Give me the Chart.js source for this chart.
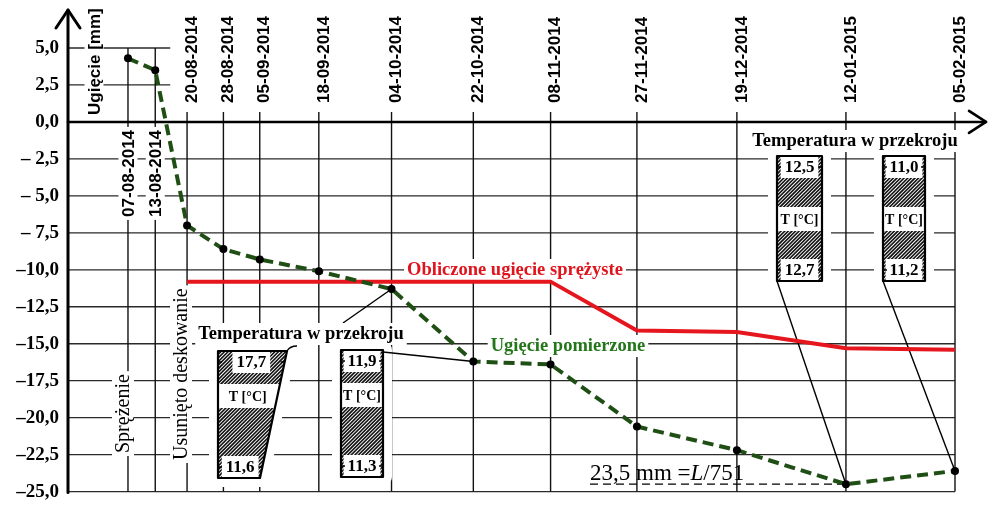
<!DOCTYPE html>
<html>
<head>
<meta charset="utf-8">
<script src="https://cdn.jsdelivr.net/npm/chart.js@4.4.1/dist/chart.umd.min.js"></script>
<style>
  html, body { margin: 0; padding: 0; background: #fff; }
  #wrap { width: 991px; height: 512px; }
</style>
</head>
<body>
<div id="wrap"><canvas id="chart" width="991" height="512"></canvas></div>
<script>
// dates of the measurements (x axis)
const dates = ['07-08-2014', '13-08-2014', '20-08-2014', '28-08-2014', '05-09-2014', '18-09-2014', '04-10-2014',
    '22-10-2014', '08-11-2014', '27-11-2014', '19-12-2014', '12-01-2015', '05-02-2015'];
// measured deflection [mm]
const measured = [4.3, 3.5, -7.0, -8.6, -9.3, -10.1, -11.3, -16.2, -16.4, -20.6, -22.2, -24.5, -23.6];
// calculated elastic deflection [mm]
const calculated = [null, null, -10.8, -10.8, -10.8, -10.8, -10.8, -10.8, -10.8, -14.1, -14.2, -15.3, -15.4];
const yTicks = [5, 2.5, 0, -2.5, -5, -7.5, -10, -12.5, -15, -17.5, -20, -22.5, -25];
// temperatures in the cross-section (top / bottom) for the four boxes
const tempTop = [17.7, 11.9, 12.5, 11.0];
const tempBottom = [11.6, 11.3, 12.7, 11.2];

const SERIF = "'Liberation Serif', 'Times New Roman', serif";
const SANS = "'Liberation Sans', Arial, sans-serif";

const dayOf = s => {
    const [d, m, y] = s.split('-').map(Number);
    return Date.UTC(y, m - 1, d) / 86400000;
};
const days = dates.map(s => dayOf(s) - dayOf(dates[0]));
const fmt = v => v.toFixed(1).replace('.', ',');

function line(ctx, x1, y1, x2, y2) {
    ctx.beginPath();
    ctx.moveTo(x1, y1);
    ctx.lineTo(x2, y2);
    ctx.stroke();
}

// vertical text, reading bottom to top, starting at yStart
function vText(ctx, text, cx, yStart, size, font, color, bg) {
    ctx.save();
    ctx.font = font;
    const w = ctx.measureText(text).width;
    ctx.translate(cx, yStart);
    ctx.rotate(-Math.PI / 2);
    if (bg) {
        ctx.fillStyle = '#fff';
        ctx.fillRect(-3, -size / 2 - 1, w + 6, size + 2);
    }
    ctx.fillStyle = color;
    ctx.textAlign = 'left';
    ctx.textBaseline = 'middle';
    ctx.fillText(text, 0, 1);
    ctx.restore();
    return w;
}

function hText(ctx, text, cx, cy, size, font, color, bg) {
    ctx.save();
    ctx.font = font;
    const w = ctx.measureText(text).width;
    if (bg) {
        ctx.fillStyle = '#fff';
        ctx.fillRect(cx - w / 2 - 3, cy - size / 2 - 1, w + 6, size + 2);
    }
    ctx.fillStyle = color;
    ctx.textAlign = 'center';
    ctx.textBaseline = 'middle';
    ctx.fillText(text, cx, cy);
    ctx.restore();
}

// box layout: left edge, top-right x, bottom-right x, top, bottom, T row centre
const boxLayout = [
    { l: 218, tr: 287, br: 260, t: 351, b: 478, tRow: 396 },
    { l: 341, tr: 383, br: 383, t: 350, b: 477, tRow: 395 },
    { l: 777, tr: 822, br: 822, t: 156, b: 281, tRow: 219 },
    { l: 883, tr: 925, br: 925, t: 156, b: 281, tRow: 219 }
];

function drawBox(ctx, bx, topVal, botVal) {
    const rightAt = yy => bx.tr + (bx.br - bx.tr) * (yy - bx.t) / (bx.b - bx.t);
    const path = () => {
        ctx.beginPath();
        ctx.moveTo(bx.l, bx.t);
        ctx.lineTo(bx.tr, bx.t);
        ctx.lineTo(bx.br, bx.b);
        ctx.lineTo(bx.l, bx.b);
        ctx.closePath();
    };
    const numFont = 'bold 17px ' + SERIF;
    ctx.save();
    // white margin round the box
    path();
    ctx.fillStyle = '#fff';
    ctx.fill();
    ctx.strokeStyle = '#fff';
    ctx.lineWidth = 18;
    ctx.lineJoin = 'round';
    ctx.stroke();

    // hatching
    ctx.save();
    path();
    ctx.clip();
    const h = bx.b - bx.t;
    ctx.strokeStyle = '#111';
    ctx.lineWidth = 1.6;
    for (let k = bx.l - h; k < bx.tr + 4; k += 3.6) line(ctx, k, bx.b, k + h, bx.t);
    ctx.fillStyle = '#fff';
    ctx.fillRect(bx.l, bx.tRow - 12, bx.tr - bx.l, 24);
    ctx.font = numFont;
    const rowTop = bx.t + 11, rowBot = bx.b - 11;
    const cTop = (bx.l + rightAt(rowTop)) / 2, cBot = (bx.l + rightAt(rowBot)) / 2;
    const wTop = ctx.measureText(fmt(topVal)).width, wBot = ctx.measureText(fmt(botVal)).width;
    ctx.fillRect(cTop - wTop / 2 - 4, bx.t, wTop + 8, 22);
    ctx.fillRect(cBot - wBot / 2 - 4, bx.b - 22, wBot + 8, 22);
    ctx.restore();

    path();
    ctx.strokeStyle = '#000';
    ctx.lineWidth = 2.2;
    ctx.stroke();

    hText(ctx, fmt(topVal), cTop, rowTop + 1, 17, numFont, '#000', false);
    hText(ctx, fmt(botVal), cBot, rowBot + 1, 17, numFont, '#000', false);
    const cT = (bx.l + rightAt(bx.tRow)) / 2;
    hText(ctx, 'T [\u00b0C]', cT, bx.tRow + 1, 14, 'bold 14px ' + SERIF, '#000', false);
    // small marks at the box edges
    ctx.lineWidth = 1.5;
    [rowTop, rowBot].forEach(yy => {
        line(ctx, bx.l, yy, bx.l + 4, yy);
        line(ctx, rightAt(yy) - 4, yy, rightAt(yy), yy);
    });
    ctx.restore();
}

const decor = {
    id: 'decor',
    beforeDatasetsDraw(chart) {
        const { ctx, chartArea: a, scales: { x, y } } = chart;
        const y0 = y.getPixelForValue(0);
        const pt = i => [x.getPixelForValue(days[i]), y.getPixelForValue(measured[i])];
        ctx.save();

        // horizontal grid
        ctx.strokeStyle = '#2a2a2a';
        ctx.lineWidth = 1.3;
        yTicks.forEach(v => {
            const py = y.getPixelForValue(v);
            const x2 = v > 0 ? x.getPixelForValue(days[1]) + 15 : a.right;
            line(ctx, a.left, py, x2, py);
        });
        // vertical grid at the measurement dates
        ctx.strokeStyle = '#111';
        ctx.lineWidth = 1.4;
        days.forEach((d, i) => {
            const px = x.getPixelForValue(d);
            const top = i < 2 ? y.getPixelForValue(5) : y0 - 10;
            line(ctx, px, top, px, a.bottom);
        });

        // date labels
        const dFont = 'bold 17px ' + SANS;
        ctx.font = dFont;
        dates.forEach((s, i) => {
            const px = x.getPixelForValue(days[i]);
            if (i < 2) {
                const w = ctx.measureText(s).width;
                vText(ctx, s, px, y0 + 8 + w, 17, dFont, '#000', true);
            } else {
                vText(ctx, s, px + 4, y0 - 19, 17, dFont, '#000', false);
            }
        });

        // temperature boxes
        boxLayout.forEach((bx, i) => drawBox(ctx, bx, tempTop[i], tempBottom[i]));

        // callout lines
        ctx.strokeStyle = '#000';
        ctx.lineWidth = 1.4;
        let p = pt(6);
        line(ctx, 343, 323, p[0], p[1]);
        ctx.beginPath();
        ctx.moveTo(287, 351);
        ctx.quadraticCurveTo(290, 346, 297, 346);
        ctx.stroke();
        p = pt(7);
        line(ctx, 383, 352, p[0], p[1]);
        p = pt(11);
        line(ctx, 777, 281, p[0], p[1]);
        p = pt(12);
        line(ctx, 883, 281, p[0], p[1]);

        // dashed line at the largest deflection
        const minI = measured.indexOf(Math.min(...measured));
        p = pt(minI);
        ctx.setLineDash([8, 5]);
        ctx.lineWidth = 1.2;
        line(ctx, 590, p[1], p[0], p[1]);
        ctx.setLineDash([]);

        // labels
        const lab = 'bold 18.5px ' + SERIF;
        hText(ctx, 'Temperatura w przekroju', 301, 334, 20, lab, '#000', true);
        hText(ctx, 'Temperatura w przekroju', 855, 141, 20, lab, '#000', true);
        hText(ctx, 'Obliczone ugi\u0119cie spr\u0119\u017cyste', 515, 270, 20, lab, '#e0141c', true);
        hText(ctx, 'Ugi\u0119cie pomierzone', 568, 346, 20, lab, '#23761a', true);
        vText(ctx, 'Spr\u0119\u017cenie', 123, 453, 20, '20px ' + SERIF, '#000', true);
        vText(ctx, 'Usuni\u0119to deskowanie', 181, 460, 20, '20px ' + SERIF, '#000', true);
        vText(ctx, 'Ugi\u0119cie [mm]', 94, 115, 17, 'bold 17px ' + SANS, '#000', true);

        // 23,5 mm = L/751
        ctx.fillStyle = '#000';
        ctx.textBaseline = 'alphabetic';
        ctx.textAlign = 'left';
        let tx = 590;
        const by = p[1] - 4;
        ctx.font = '23px ' + SERIF;
        ctx.fillText('23,5 mm =', tx, by);
        tx += ctx.measureText('23,5 mm =').width;
        ctx.font = 'italic 23px ' + SERIF;
        ctx.fillText('L', tx, by);
        tx += ctx.measureText('L').width;
        ctx.font = '23px ' + SERIF;
        ctx.fillText('/751', tx, by);

        ctx.restore();
    },
    afterDatasetsDraw(chart) {
        const { ctx, chartArea: a, scales: { y } } = chart;
        const y0 = y.getPixelForValue(0);
        ctx.save();
        ctx.strokeStyle = '#000';
        ctx.lineCap = 'round';
        ctx.lineJoin = 'round';
        ctx.lineWidth = 3;
        line(ctx, a.left, 10, a.left, a.bottom + 1);
        ctx.beginPath();
        ctx.moveTo(a.left - 12, 28);
        ctx.lineTo(a.left, 10);
        ctx.lineTo(a.left + 12, 28);
        ctx.stroke();
        ctx.lineWidth = 2.6;
        line(ctx, a.left, y0, 986, y0);
        ctx.beginPath();
        ctx.moveTo(969, y0 - 11);
        ctx.lineTo(986, y0);
        ctx.lineTo(969, y0 + 11);
        ctx.stroke();
        ctx.restore();
    }
};

new Chart(document.getElementById('chart'), {
    type: 'line',
    data: {
        datasets: [
            {
                label: 'Ugi\u0119cie pomierzone',
                data: days.map((d, i) => ({ x: d, y: measured[i] })),
                borderColor: '#1f4f14',
                borderWidth: 4,
                borderDash: [11, 6],
                pointRadius: 4,
                pointBackgroundColor: '#000',
                pointBorderWidth: 0,
                tension: 0,
                clip: false
            },
            {
                label: 'Obliczone ugi\u0119cie spr\u0119\u017cyste',
                data: days.map((d, i) => ({ x: d, y: calculated[i] })).filter(p => p.y !== null),
                borderColor: '#e5161d',
                borderWidth: 4,
                pointRadius: 0,
                tension: 0,
                clip: false
            }
        ]
    },
    options: {
        responsive: false,
        devicePixelRatio: 1,
        animation: false,
        events: [],
        layout: { padding: { left: 0, right: 36, top: 48, bottom: 15 } },
        plugins: { legend: { display: false }, tooltip: { enabled: false } },
        scales: {
            x: {
                type: 'linear',
                display: false,
                min: -13.2,
                max: days[days.length - 1],
                afterBuildTicks: s => { s.ticks = days.map(v => ({ value: v })); }
            },
            y: {
                min: -25,
                max: 5,
                afterFit: s => { s.width = 68; },
                afterBuildTicks: s => { s.ticks = yTicks.map(v => ({ value: v })); },
                grid: { display: false, drawTicks: false },
                border: { display: false },
                ticks: {
                    padding: 9,
                    color: '#000',
                    font: { family: SERIF, size: 19, weight: 'bold' },
                    callback: v => v < 0 ? (v > -10 ? '\u2013 ' : '\u2013') + fmt(-v) : fmt(v)
                }
            }
        }
    },
    plugins: [decor]
});
</script>
</body>
</html>
